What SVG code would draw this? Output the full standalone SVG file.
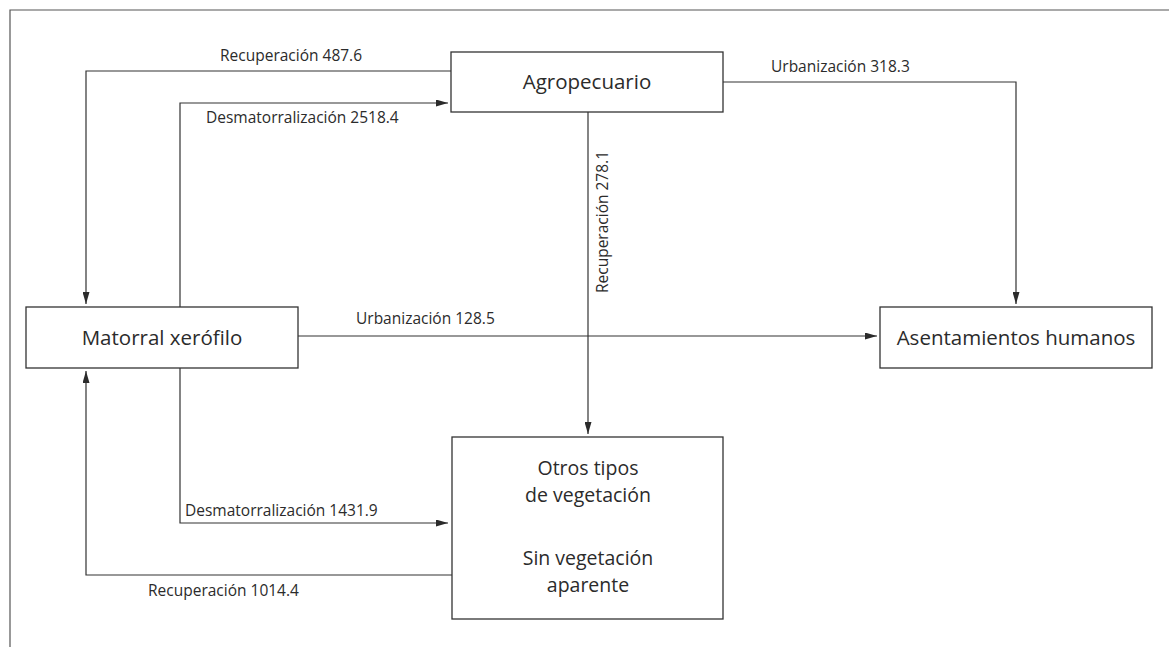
<svg xmlns="http://www.w3.org/2000/svg" width="1169" height="647" viewBox="0 0 1169 647">
<defs>
<marker id="arr" markerWidth="12" markerHeight="7" refX="12" refY="3.5" orient="auto" markerUnits="userSpaceOnUse">
<path d="M0,0 L12,3.5 L0,7 z" fill="#2b2b2b"/>
</marker>
</defs>
<style>
.box{fill:#fff;stroke:#333;stroke-width:1.3}
.cn{fill:none;stroke:#333;stroke-width:1.2}
.lbl{font-family:"Open Sans","Noto Sans",sans-serif;font-size:15.5px;fill:#2b2b2b}
.nt{font-family:"Open Sans","Noto Sans",sans-serif;font-size:20.5px;fill:#2b2b2b;text-anchor:middle}
.nt2{font-size:19.5px}
.frame{fill:none;stroke:#555;stroke-width:1.2}
</style>
<rect width="1169" height="647" fill="#fff"/>
<path class="frame" d="M10,647 V10 H1169"/>
<g id="connectors">
<path class="cn" d="M451,71 H86 V304" marker-end="url(#arr)"/>
<path class="cn" d="M180,307 V103 H448" marker-end="url(#arr)"/>
<path class="cn" d="M723,82 H1016 V304" marker-end="url(#arr)"/>
<path class="cn" d="M588,112 V434" marker-end="url(#arr)"/>
<path class="cn" d="M298,336 H877" marker-end="url(#arr)"/>
<path class="cn" d="M180,368 V523 H448" marker-end="url(#arr)"/>
<path class="cn" d="M452,575 H86 V371" marker-end="url(#arr)"/>
<text class="lbl" x="220" y="61">Recuperación 487.6</text>
<text class="lbl" x="206" y="123">Desmatorralización 2518.4</text>
<text class="lbl" x="771" y="72">Urbanización 318.3</text>
<text class="lbl" transform="translate(608,222) rotate(-90)" text-anchor="middle">Recuperación 278.1</text>
<text class="lbl" x="356" y="324">Urbanización 128.5</text>
<text class="lbl" x="185" y="516">Desmatorralización 1431.9</text>
<text class="lbl" x="148" y="596">Recuperación 1014.4</text>
</g>
<g id="agropecuario">
<rect class="box" x="451" y="52" width="272" height="60"/>
<text class="nt" x="587" y="89">Agropecuario</text>
</g>
<g id="matorral">
<rect class="box" x="26" y="307" width="272" height="61"/>
<text class="nt" x="162" y="345">Matorral xerófilo</text>
</g>
<g id="asentamientos">
<rect class="box" x="880" y="307" width="272" height="61"/>
<text class="nt" x="1016" y="345">Asentamientos humanos</text>
</g>
<g id="otros">
<rect class="box" x="452" y="437" width="271" height="182"/>
<text class="nt nt2" x="588" y="475">Otros tipos<tspan x="588" dy="26.7">de vegetación</tspan></text>
<text class="nt nt2" x="588" y="565">Sin vegetación<tspan x="588" dy="26.7">aparente</tspan></text>
</g>
</svg>
